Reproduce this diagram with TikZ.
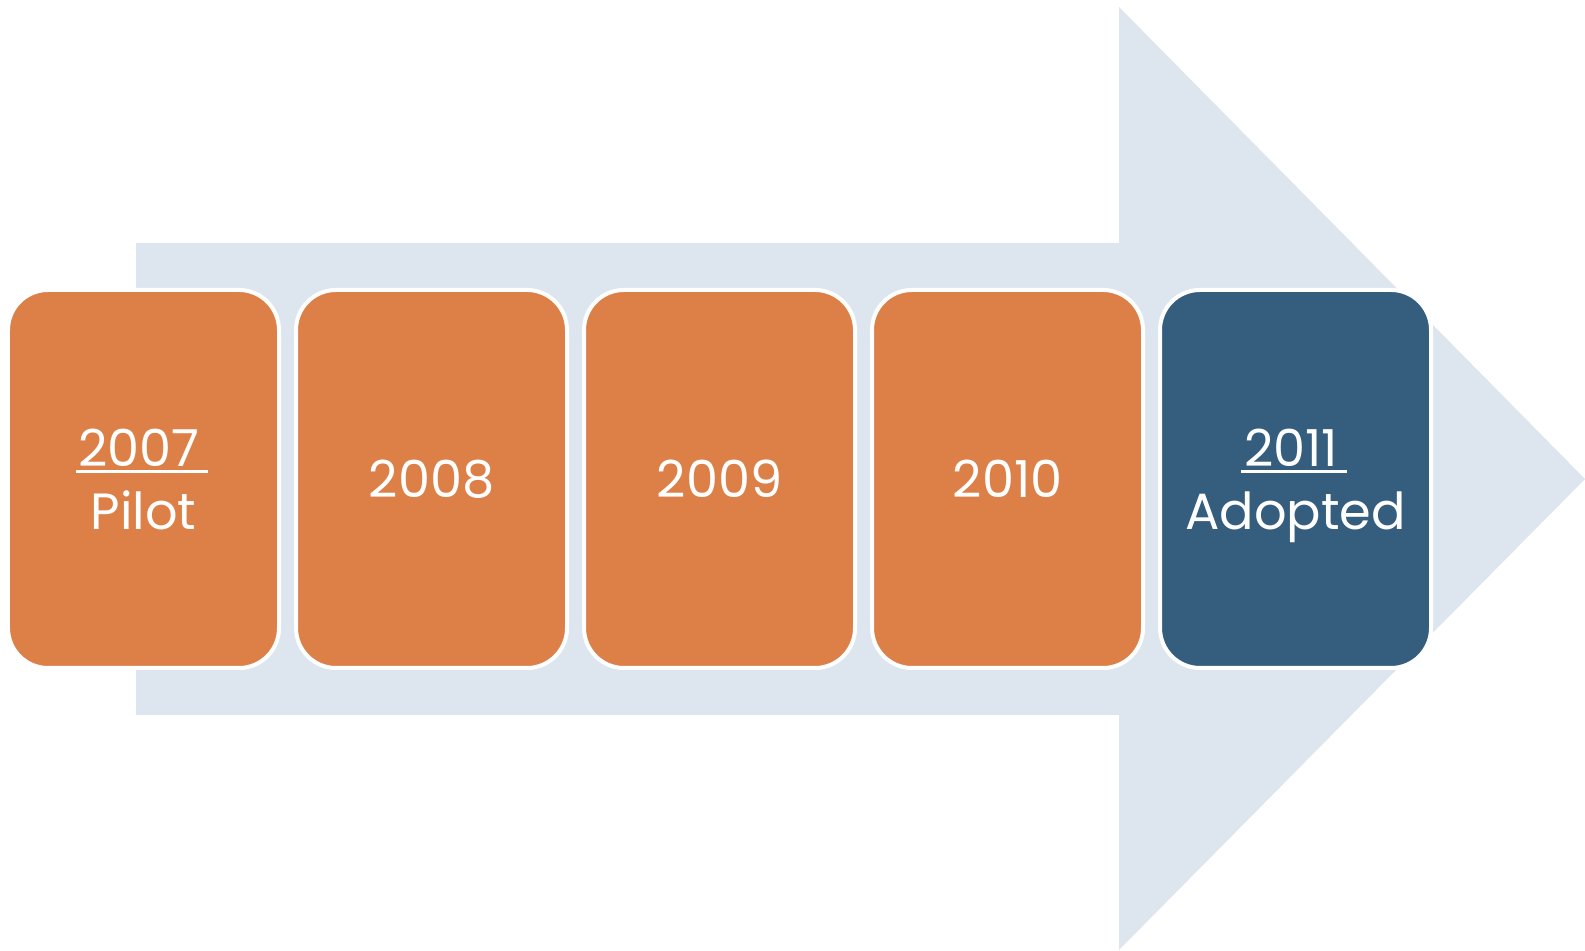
\documentclass[tikz,border=0pt]{standalone}
\usepackage{fontspec}
\setmainfont{Poppins}
\definecolor{arrowgrey}{RGB}{221,229,238}
\definecolor{boxorange}{RGB}{221,128,71}
\definecolor{boxblue}{RGB}{53,93,126}
\newcommand{\yearmark}[1]{\setbox0\hbox{#1}\kern-0.8pt\rlap{\rule[-1.9pt]{\dimexpr\wd0+3.3pt\relax}{0.85pt}}\kern0.8pt\box0\kern2.5pt}

\begin{document}
\begin{tikzpicture}[inner sep=0pt,outer sep=0pt,
yearbox/.style={draw=white,fill=boxorange,rounded corners=0.4cm,line width=0.04cm,minimum width=2.71cm,minimum height=3.78cm,text=white,align=center,text depth=0pt,font=\fontsize{14.5}{18}\selectfont}]

\useasboundingbox (0,-4.72) rectangle (15.85,4.79);
\fill[arrowgrey] (1.36,2.36) -- (11.19,2.36) -- (11.19,4.72) -- (15.85,0) -- (11.19,-4.71) -- (11.19,-2.36) -- (1.36,-2.36) -- cycle;

\draw (1.435,0) node[yearbox] (y2007) {\yearmark{2007}\\Pilot};
\draw (4.315,0) node[yearbox] (y2008) {2008};
\draw (7.195,0) node[yearbox] (y2009) {2009};
\draw (10.075,0) node[yearbox] (y2010) {2010};
\draw (12.955,0) node[yearbox,fill=boxblue] (y2011) {\yearmark{2011}\\Adopted};
\end{tikzpicture}
\end{document}
